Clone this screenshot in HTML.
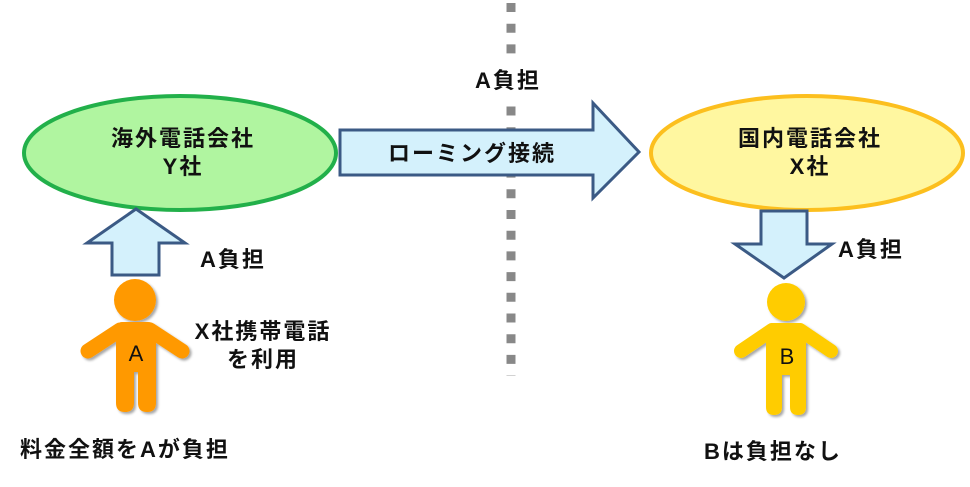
<!DOCTYPE html>
<html><head><meta charset="utf-8"><style>
html,body{margin:0;padding:0;background:#fff}
svg text{font-family:"Liberation Sans","Noto Sans CJK JP",sans-serif;font-weight:bold;fill:#111;letter-spacing:2px}
</style></head><body>
<svg width="970" height="482" viewBox="0 0 970 482" xmlns="http://www.w3.org/2000/svg">
<defs>
<filter id="sh" x="-20%" y="-20%" width="140%" height="140%"><feDropShadow dx="2" dy="2" stdDeviation="1.2" flood-color="#000" flood-opacity="0.35"/></filter>
</defs>
<line x1="511" y1="3" x2="511" y2="376" stroke="#888" stroke-width="9" stroke-dasharray="9 11.7"/>
<rect x="468" y="58" width="84" height="42" fill="#fff"/>
<text x="508" y="88" font-size="22" text-anchor="middle">A負担</text>

<ellipse cx="180" cy="153" rx="156" ry="57" fill="#b0f5a0" stroke="#22b04a" stroke-width="4"/>
<text x="183" y="146" font-size="22" text-anchor="middle">海外電話会社</text>
<text x="183" y="174" font-size="22" text-anchor="middle">Y社</text>

<path d="M340,130 L593,130 L593,103 L639,152 L593,198 L593,175 L340,175 Z" fill="#d4f1fc" stroke="#3b5a85" stroke-width="3"/>
<text x="472" y="161" font-size="22" text-anchor="middle">ローミング接続</text>

<ellipse cx="807" cy="153" rx="156" ry="57" fill="#fff7a0" stroke="#fcbf1e" stroke-width="4"/>
<text x="810" y="146" font-size="22" text-anchor="middle">国内電話会社</text>
<text x="810" y="174" font-size="22" text-anchor="middle">X社</text>

<path d="M112,275 L112,243 L87,243 L136,209 L185,243 L159,243 L159,275 Z" fill="#d4f1fc" stroke="#3b5a85" stroke-width="3"/>
<text x="200" y="267" font-size="22">A負担</text>

<path d="M761,211 L807,211 L807,244 L832,244 L784,278 L735,244 L761,244 Z" fill="#d4f1fc" stroke="#3b5a85" stroke-width="3"/>
<text x="838" y="257" font-size="22">A負担</text>

<g filter="url(#sh)" fill="#ff9900" stroke="#ff9900">
<circle cx="135" cy="300" r="21" stroke="none"/>
<line x1="120" y1="330" x2="88" y2="351" stroke-width="15" stroke-linecap="round"/>
<line x1="150" y1="330" x2="182" y2="351" stroke-width="15" stroke-linecap="round"/>
<path d="M122,322 L148,322 Q156,322 156,332 L156,403 Q156,412 147,412 Q138,412 138,403 L138,372 L134,372 L134,403 Q134,412 125,412 Q116,412 116,403 L116,332 Q116,322 122,322 Z" stroke="none"/>
</g>
<text x="137" y="361" font-size="22" text-anchor="middle" style="font-weight:normal">A</text>
<text x="263" y="339" font-size="22" text-anchor="middle">X社携帯電話</text>
<text x="263" y="367" font-size="22" text-anchor="middle">を利用</text>
<text x="20" y="457" font-size="22">料金全額をAが負担</text>

<g filter="url(#sh)" fill="#ffcc00" stroke="#ffcc00">
<circle cx="786" cy="302" r="19" stroke="none"/>
<line x1="772" y1="330" x2="741" y2="351" stroke-width="14" stroke-linecap="round"/>
<line x1="800" y1="330" x2="831" y2="351" stroke-width="14" stroke-linecap="round"/>
<path d="M773,323 L799,323 Q806,323 806,332 L806,407 Q806,415 798,415 Q790,415 790,407 L790,375 L782,375 L782,407 Q782,415 774,415 Q766,415 766,407 L766,332 Q766,323 773,323 Z" stroke="none"/>
</g>
<text x="788" y="364" font-size="22" text-anchor="middle" style="font-weight:normal">B</text>
<text x="704" y="459" font-size="22">Bは負担なし</text>
</svg>
</body></html>
